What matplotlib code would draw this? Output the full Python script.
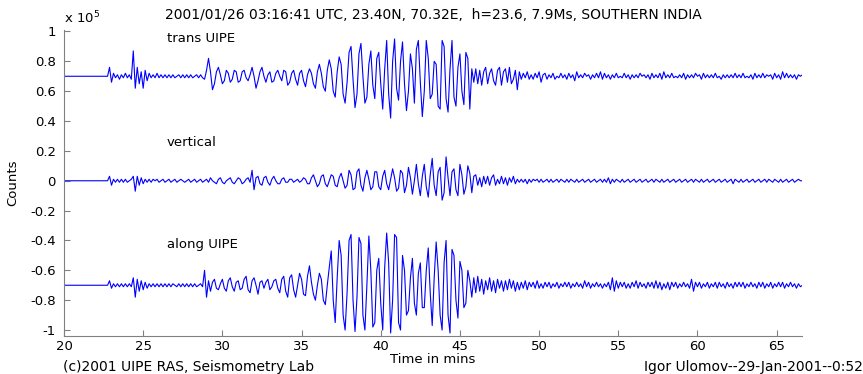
import numpy as np
import matplotlib
matplotlib.use("Agg")
import matplotlib.pyplot as plt

plt.rcParams['font.family'] = ['DejaVu Sans']

# ---- data (deviations in units of 0.01 x 1e5 counts, sampled every 0.125 min from 22.75 min) ----
start_time = 20.0
t0 = 22.75
dt = 0.125
offsets = [0.70, 0.0, -0.70]
labels = ["trans UIPE", "vertical", "along UIPE"]

trans_vals = [
    0, 6, -4, 2, -1, 1, -2, 1,
    -1, 2, -1, 1, -2, 17, -8, 6,
    -5, 3, -8, 4, -3, 2, -1, 1,
    -1, 2, -1, 1, -1, 1, -1, 1,
    -1, 1, -1, 0, 1, -1, 1, -1,
    1, -1, 1, -1, 0, 1, -1, 1,
    -1, -2, 4, 12, 3, -9, -5, 3,
    6, 1, -5, -3, 4, 2, -4, -2,
    4, 3, -4, -3, 3, 4, -1, -3,
    1, 6, 0, -8, -3, 3, 6, 0,
    -4, 1, 3, -4, -3, 2, 4, 0,
    -3, 4, 3, -6, -4, 2, 4, -2,
    -6, 2, 4, -3, -7, 1, 5, 2,
    -5, -8, 3, 8, 2, -7, -10, 4,
    11, 5, -10, -14, 3, 13, 8, -12,
    -18, -4, 16, 20, -2, -21, -12, 15,
    22, 0, -18, -14, 8, 17, -6, -15,
    12, 16, -5, -22, 5, 24, -12, -28,
    10, 25, -8, -16, 10, 23, -5, -23,
    -10, 15, 5, -18, 18, 24, -4, -27,
    -10, 24, 12, -15, -12, 10, 8, -20,
    -22, 24, 20, -15, -24, 5, 24, -14,
    -20, 6, 15, -10, -19, 16, 12, -22,
    5, -4, 5, -5, 4, -6, 3, 6,
    -5, 2, 5, -3, -6, 4, 6, -6,
    3, 5, -4, 6, -5, -2, 4, -9,
    3, -2, 2, -1, 3, -2, 1, -2,
    2, -1, 3, -4, 1, 2, -2, 1,
    -1, 2, -2, 0, -1, 2, -1, 1,
    -2, 2, -1, 1, -3, 3, -1, 1,
    -1, 2, 0, 1, -2, 1, -1, 2,
    -1, 3, -2, 2, -1, 1, -2, 1,
    -1, 2, -1, 0, -1, 2, -1, 1,
    -2, 1, -1, 1, -1, 2, 0, 1,
    -1, 1, -2, 2, -1, 1, -1, 2,
    -2, 3, -1, 1, -1, 2, -1, 0,
    -1, 1, -1, 2, -2, 1, -1, 1,
    -1, 2, 0, 1, -2, 2, -1, 1,
    -1, 1, -1, 2, -1, 0, -2, 1,
    -1, 1, -1, 1, -1, 2, -1, 1,
    -1, 2, -1, 0, -1, 1, -2, 2,
    -1, 1, -1, 2, -1, 1, 0, 1,
    -2, 2, -1, 1, -2, 3, -1, 2,
    -1, 1, -1, 1, -2, 1, 0, 1,
]

vertical_vals = [
    0, 3, -3, 1, -1, 1, -1, 1,
    -1, 1, -1, 0, 1, 3, -7, 3,
    -3, 2, -2, 1, -1, 1, -1, 1,
    0, 1, -1, 0, 1, -1, 0, 1,
    -1, 0, 1, -1, 0, 1, 0, -1,
    0, 1, -1, 0, 1, -1, 0, 1,
    -1, 0, 1, -1, 2, 0, -1, -2,
    1, 2, -1, -2, 0, 1, 2, -1,
    -2, 0, 2, 1, -2, -1, 1, 2,
    -1, 7, -6, 2, 3, -2, -3, 2,
    3, -1, -3, 1, 3, 0, -2, -2,
    1, 2, -1, -1, 1, 1, -1, 0,
    1, -1, 0, 2, 1, -2, -2, 2,
    4, 0, -4, -2, 3, 4, -2, -4,
    0, 4, 3, -3, -4, 2, 5, 0,
    -5, -3, 7, 4, -6, -5, 6, 8,
    -3, -7, 2, 7, 1, -6, -4, 6,
    6, -4, -6, 3, 7, -2, -6, 1,
    8, 2, -7, -5, 7, 5, -8, -3,
    9, 2, -9, 0, 11, -2, -10, 3,
    11, -4, -11, 4, 15, -3, -10, 6,
    9, -13, -8, 16, 2, -10, 6, 8,
    -6, -10, 11, 4, -9, -4, 10, 5,
    -8, 3, 4, -3, 2, -4, 3, -2,
    3, -3, 2, 4, -3, 1, -2, 3,
    -2, 2, -3, 2, -1, 3, -2, 1,
    -1, 1, -1, 1, -2, 1, -1, 1,
    0, 1, -1, 1, -1, 0, 1, -1,
    1, -1, 0, 1, -1, 1, 0, -1,
    1, -1, 1, 0, -1, 1, -1, 0,
    1, -1, 0, 1, -1, 0, 1, -1,
    0, 1, -1, 1, -1, 2, -2, 1,
    -1, 1, 0, -1, 1, -1, 0, 1,
    -1, 0, 1, -1, 0, 1, -1, 0,
    1, -1, 0, 1, -1, 1, 0, -1,
    1, -1, 0, 1, -1, 0, 1, -1,
    0, 1, -1, 0, 1, -1, 0, 1,
    -1, 1, 0, -1, 1, -1, 0, 1,
    -1, 0, 1, -1, 0, 1, -1, 0,
    1, -1, 0, 1, -2, 1, 0, -1,
    1, -1, 0, 1, -1, 0, 1, -1,
    0, 1, -1, 0, 1, -1, 1, 0,
    -1, 1, 0, -1, 1, -1, 0, 1,
    -1, 0, 1, -1, 0, 1, 0, 0,
]

along_vals = [
    0, 3, -2, 1, -1, 1, -1, 1,
    -1, 1, -1, 1, -1, 5, -8, 4,
    -4, 3, -3, 2, -2, 1, -1, 1,
    -1, 1, -1, 1, -1, 1, -1, 1,
    -1, 1, 0, -1, 1, -1, 1, -1,
    1, -1, 1, -1, 1, -1, 0, 1,
    -1, 10, -8, 3, -4, 2, 4, -2,
    -3, 1, 4, -2, -4, 3, 5, -1,
    -4, 2, 3, -3, -2, 4, 6, -3,
    -5, 3, 5, 0, -6, 2, 3, -2,
    2, 4, -3, -1, 3, 4, -2, -5,
    4, 6, -4, -8, 5, 7, -3, -8,
    0, 8, 4, -6, -7, 6, 13, 2,
    -6, -10, 0, 8, 4, -10, -13, 0,
    12, 23, -10, -25, 5, 30, 20, -20,
    -30, -5, 30, 34, -10, -31, -8, 32,
    28, -20, -30, 0, 33, 10, -28, -25,
    10, 18, -12, -30, 12, 35, 15, -32,
    -10, 34, 32, -25, -30, 20, 10, -20,
    -17, 5, 18, -12, -20, 8, 15, -15,
    -15, 10, 25, -5, -27, 5, 29, 10,
    -20, -30, 15, 30, -20, -32, 24, 20,
    -10, -22, 16, 10, -15, -12, 10, 3,
    -8, 5, -5, 6, -4, 4, -6, 3,
    -3, 5, -4, 3, -5, 4, -2, 3,
    -4, 3, -3, 4, -2, 3, -4, 2,
    -3, 2, -2, 3, -3, 2, -1, 2,
    -2, 3, -2, 1, -2, 2, -1, 2,
    -2, 1, -1, 2, -2, 1, -1, 2,
    -1, 2, -2, 1, -1, 2, -1, 1,
    -2, 3, -1, 2, -2, 1, -1, 2,
    -1, 1, -2, 1, -1, 2, -3, 5,
    -4, 3, -2, 2, -1, 2, -2, 1,
    -2, 2, -1, 3, -2, 2, -1, 1,
    -2, 2, -1, 2, -2, 3, -2, 2,
    -3, 1, -2, 2, -3, 2, -1, 2,
    -2, 1, -1, 2, -1, 1, -2, 4,
    -4, 2, -1, 2, -2, 1, -1, 2,
    -2, 1, -1, 2, -2, 2, -1, 1,
    -2, 2, -1, 1, -2, 2, -1, 2,
    -1, 2, -2, 1, -1, 2, -1, 1,
    -2, 2, -1, 2, -2, 1, -1, 2,
    -2, 1, -1, 2, -1, 2, -2, 1,
    -1, 2, -1, 1, -2, 1, -1, 0,
]

x_ticks = [20, 25, 30, 35, 40, 45, 50, 55, 60, 65]
y_ticks = [-1, -0.8, -0.6, -0.4, -0.2, 0, 0.2, 0.4, 0.6, 0.8, 1]
y_ticklabels = ["-1", "-0.8", "-0.6", "-0.4", "-0.2", "0", "0.2", "0.4", "0.6", "0.8", "1"]

title = "2001/01/26 03:16:41 UTC, 23.40N, 70.32E,  h=23.6, 7.9Ms, SOUTHERN INDIA"

# ---- figure ----
W, H, DPI = 863, 374, 100
FS = 9.5     # tick labels, trace labels
FT = 10      # title and footers
fig = plt.figure(figsize=(W / DPI, H / DPI), dpi=DPI)
ax = fig.add_axes([64 / W, 1 - 336 / H, (802 - 64) / W, (336 - 30) / H])

for vals, off in zip([trans_vals, vertical_vals, along_vals], offsets):
    v = np.asarray(vals, dtype=float) / 100.0
    t = t0 + dt * np.arange(len(v))
    t = np.concatenate([[start_time], t])
    y = off + np.concatenate([[0.0], v])
    ax.plot(t, y, color=(0, 0, 1), lw=0.8)

ax.text(26.5, 0.953, labels[0], fontsize=FS, va='center', ha='left')
ax.text(26.5, 0.255, labels[1], fontsize=FS, va='center', ha='left')
ax.text(26.5, -0.43, labels[2], fontsize=FS, va='center', ha='left')

ax.set_xlim(20, 66.6)
ax.set_ylim(-1.04, 1.01)
ax.set_xticks(x_ticks)
ax.set_xticklabels([str(v) for v in x_ticks])
ax.set_yticks(y_ticks)
ax.set_yticklabels(y_ticklabels)
for s in ['top', 'right']:
    ax.spines[s].set_visible(False)
for s in ['left', 'bottom']:
    ax.spines[s].set_color('#808080')
    ax.spines[s].set_linewidth(0.8)
ax.tick_params(direction='in', length=4, color='#808080', labelsize=FS, pad=3)
ax.tick_params(axis='y', pad=6)

ax.set_xlabel("Time in mins", fontsize=FS, labelpad=0)
ax.set_ylabel("Counts", fontsize=FS, labelpad=8)

fig.text(433 / W, 1 - 15 / H, title, fontsize=FT, ha='center', va='center')
fig.text(64 / W, 1 - 18 / H, r"x 10$^5$", fontsize=FS, ha='left', va='center')
fig.text(63 / W, 1 - 367 / H, "(c)2001 UIPE RAS, Seismometry Lab", fontsize=FT, ha='left', va='center')
fig.text(863 / W, 1 - 367 / H, "Igor Ulomov--29-Jan-2001--0:52", fontsize=FT, ha='right', va='center')

fig.savefig("out.png", dpi=DPI)
